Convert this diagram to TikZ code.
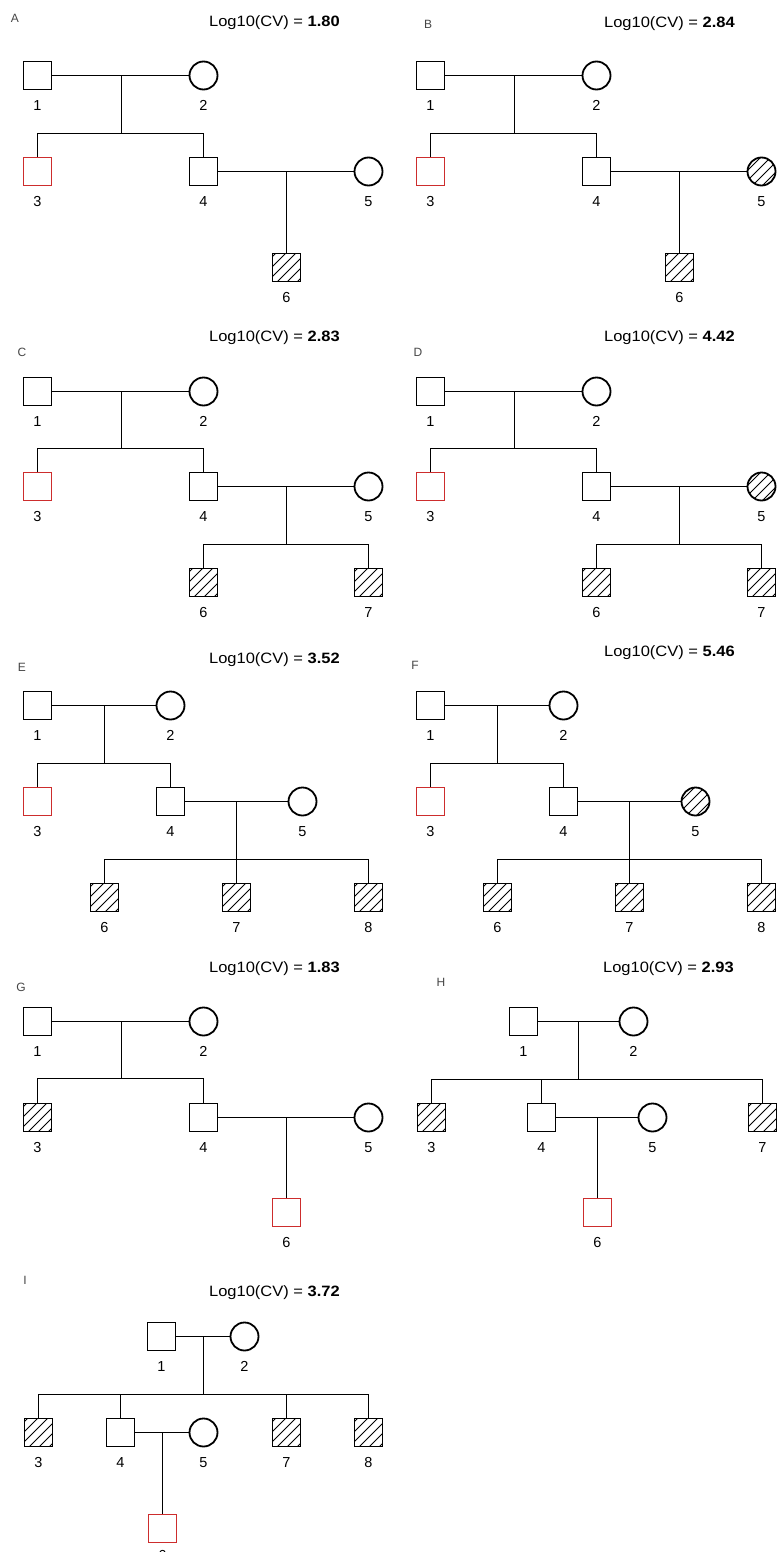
\documentclass[tikz,border=0pt]{standalone}
\usepackage{fontspec}
\setmainfont{Liberation Sans}
\usepackage{graphicx}
\definecolor{pedred}{RGB}{205,45,45}
\definecolor{lettergray}{RGB}{70,70,70}
\tikzset{
  person/.style={draw=black, line width=1.8pt, fill=white, inner sep=0pt,
    minimum size=28pt},
  male/.style={person, rectangle},
  female/.style={person, circle},
  proband/.style={draw=pedred},
  affected/.style={path picture={
    \foreach \k in {-25,-15,...,25}
      \draw[line width=1pt, shift={(path picture bounding box.center)}]
        (\k pt-20pt,-20pt) -- (\k pt+20pt,20pt);}},
  plain/.style={},
  tie/.style={draw=black, line width=1.8pt},
  every label/.style={font=\fontsize{14.5}{14.5}\selectfont, inner sep=0pt,
    yshift=-10pt},
  title/.style={font=\fontsize{15}{15}\selectfont, inner sep=0pt, anchor=east},
  letter/.style={font=\fontsize{12}{12}\selectfont, text=lettergray, inner sep=0pt}
}

% Three generations, one child of couple 4-5
\newcommand\pedsingle[3]{%
\begin{scope}[xshift=#2]
  \node[male, label=below:1] (#1p1) at (37.5,75.5) {};
  \node[female, label=below:2] (#1p2) at (203.5,75.5) {};
  \node[male, proband, label=below:3] (#1p3) at (37.5,171.5) {};
  \node[male, label=below:4] (#1p4) at (203.5,171.5) {};
  \node[female, #3, label=below:5] (#1p5) at (368.5,171.5) {};
  \node[male, affected, label=below:6] (#1p6) at (286.5,267.5) {};
  \coordinate (#1m1) at (121.5,75.5);
  \coordinate (#1s1) at (121.5,133.5);
  \coordinate (#1m2) at (286.5,171.5);
  \draw[tie] (#1p1) -- (#1p2);
  \draw[tie] (#1m1) -- (#1s1);
  \draw[tie] (#1p3.north) |- (#1s1) -| (#1p4.north);
  \draw[tie] (#1p4) -- (#1p5);
  \draw[tie] (#1m2) -- (#1p6);
\end{scope}}

% Three generations, two children of couple 4-5
\newcommand\pedpair[3]{%
\begin{scope}[xshift=#2]
  \node[male, label=below:1] (#1p1) at (37.5,391.5) {};
  \node[female, label=below:2] (#1p2) at (203.5,391.5) {};
  \node[male, proband, label=below:3] (#1p3) at (37.5,486.5) {};
  \node[male, label=below:4] (#1p4) at (203.5,486.5) {};
  \node[female, #3, label=below:5] (#1p5) at (368.5,486.5) {};
  \node[male, affected, label=below:6] (#1p6) at (203.5,582.5) {};
  \node[male, affected, label=below:7] (#1p7) at (368.5,582.5) {};
  \coordinate (#1m1) at (121.5,391.5);
  \coordinate (#1s1) at (121.5,448.5);
  \coordinate (#1m2) at (286.5,486.5);
  \coordinate (#1s2) at (286.5,544.5);
  \draw[tie] (#1p1) -- (#1p2);
  \draw[tie] (#1m1) -- (#1s1);
  \draw[tie] (#1p3.north) |- (#1s1) -| (#1p4.north);
  \draw[tie] (#1p4) -- (#1p5);
  \draw[tie] (#1m2) -- (#1s2);
  \draw[tie] (#1p6.north) |- (#1s2) -| (#1p7.north);
\end{scope}}

% Three generations, three children of couple 4-5
\newcommand\pedtriple[3]{%
\begin{scope}[xshift=#2]
  \node[male, label=below:1] (#1p1) at (37.5,705.5) {};
  \node[female, label=below:2] (#1p2) at (170.5,705.5) {};
  \node[male, proband, label=below:3] (#1p3) at (37.5,801.5) {};
  \node[male, label=below:4] (#1p4) at (170.5,801.5) {};
  \node[female, #3, label=below:5] (#1p5) at (302.5,801.5) {};
  \node[male, affected, label=below:6] (#1p6) at (104.5,897.5) {};
  \node[male, affected, label=below:7] (#1p7) at (236.5,897.5) {};
  \node[male, affected, label=below:8] (#1p8) at (368.5,897.5) {};
  \coordinate (#1m1) at (104.5,705.5);
  \coordinate (#1s1) at (104.5,763.5);
  \coordinate (#1m2) at (236.5,801.5);
  \coordinate (#1s2) at (236.5,859.5);
  \draw[tie] (#1p1) -- (#1p2);
  \draw[tie] (#1m1) -- (#1s1);
  \draw[tie] (#1p3.north) |- (#1s1) -| (#1p4.north);
  \draw[tie] (#1p4) -- (#1p5);
  \draw[tie] (#1m2) -- (#1p7);
  \draw[tie] (#1p6.north) |- (#1s2) -| (#1p8.north);
\end{scope}}

\begin{document}
\begin{tikzpicture}[x=1pt, y=-1pt]
  \useasboundingbox[fill=white] (0,0) rectangle (779,1552);

  % ---- A / B ----
  \node[letter] (lA) at (15,18) {A};
  \node[title] (tA) at (340,23) {\scalebox{1.1}[1]{Log10(CV) = \textbf{1.80}}};
  \pedsingle{A}{0pt}{plain}
  \node[letter] (lB) at (428,24) {B};
  \node[title] (tB) at (735,24) {\scalebox{1.1}[1]{Log10(CV) = \textbf{2.84}}};
  \pedsingle{B}{393pt}{affected}

  % ---- C / D ----
  \node[letter] (lC) at (22,352) {C};
  \node[title] (tC) at (340,338) {\scalebox{1.1}[1]{Log10(CV) = \textbf{2.83}}};
  \pedpair{C}{0pt}{plain}
  \node[letter] (lD) at (418,352) {D};
  \node[title] (tD) at (735,338) {\scalebox{1.1}[1]{Log10(CV) = \textbf{4.42}}};
  \pedpair{D}{393pt}{affected}

  % ---- E / F ----
  \node[letter] (lE) at (22,667) {E};
  \node[title] (tE) at (340,660) {\scalebox{1.1}[1]{Log10(CV) = \textbf{3.52}}};
  \pedtriple{E}{0pt}{plain}
  \node[letter] (lF) at (415,665) {F};
  \node[title] (tF) at (735,653) {\scalebox{1.1}[1]{Log10(CV) = \textbf{5.46}}};
  \pedtriple{F}{393pt}{affected}

  % ---- G ----
  \node[letter] (lG) at (21,987) {G};
  \node[title] (tG) at (340,969) {\scalebox{1.1}[1]{Log10(CV) = \textbf{1.83}}};
  \node[male, label=below:1] (Gp1) at (37.5,1021.5) {};
  \node[female, label=below:2] (Gp2) at (203.5,1021.5) {};
  \node[male, affected, label=below:3] (Gp3) at (37.5,1117.5) {};
  \node[male, label=below:4] (Gp4) at (203.5,1117.5) {};
  \node[female, label=below:5] (Gp5) at (368.5,1117.5) {};
  \node[male, proband, label=below:6] (Gp6) at (286.5,1212.5) {};
  \coordinate (Gm1) at (121.5,1021.5);
  \coordinate (Gs1) at (121.5,1078.5);
  \coordinate (Gm2) at (286.5,1117.5);
  \draw[tie] (Gp1) -- (Gp2);
  \draw[tie] (Gm1) -- (Gs1);
  \draw[tie] (Gp3.north) |- (Gs1) -| (Gp4.north);
  \draw[tie] (Gp4) -- (Gp5);
  \draw[tie] (Gm2) -- (Gp6);

  % ---- H ----
  \node[letter] (lH) at (441,982) {H};
  \node[title] (tH) at (734,969) {\scalebox{1.1}[1]{Log10(CV) = \textbf{2.93}}};
  \node[male, label=below:1] (Hp1) at (523.5,1021.5) {};
  \node[female, label=below:2] (Hp2) at (633.5,1021.5) {};
  \node[male, affected, label=below:3] (Hp3) at (431.5,1117.5) {};
  \node[male, label=below:4] (Hp4) at (541.5,1117.5) {};
  \node[female, label=below:5] (Hp5) at (652.5,1117.5) {};
  \node[male, proband, label=below:6] (Hp6) at (597.5,1212.5) {};
  \node[male, affected, label=below:7] (Hp7) at (762.5,1117.5) {};
  \coordinate (Hm1) at (578.5,1021.5);
  \coordinate (Hs1) at (578.5,1079.5);
  \coordinate (Hm2) at (597.5,1117.5);
  \draw[tie] (Hp1) -- (Hp2);
  \draw[tie] (Hm1) -- (Hs1);
  \draw[tie] (Hp3.north) |- (Hs1) -| (Hp7.north);
  \draw[tie] (Hp4) -- (Hp4 |- Hs1);
  \draw[tie] (Hp4) -- (Hp5);
  \draw[tie] (Hm2) -- (Hp6);

  % ---- I ----
  \node[letter] (lI) at (25,1280) {I};
  \node[title] (tI) at (340,1293) {\scalebox{1.1}[1]{Log10(CV) = \textbf{3.72}}};
  \node[male, label=below:1] (Ip1) at (161.5,1336.5) {};
  \node[female, label=below:2] (Ip2) at (244.5,1336.5) {};
  \node[male, affected, label=below:3] (Ip3) at (38.5,1432.5) {};
  \node[male, label=below:4] (Ip4) at (120.5,1432.5) {};
  \node[female, label=below:5] (Ip5) at (203.5,1432.5) {};
  \node[male, affected, label=below:7] (Ip7) at (286.5,1432.5) {};
  \node[male, affected, label=below:8] (Ip8) at (368.5,1432.5) {};
  \node[male, proband, label={[yshift=3pt]below:6}] (Ip6) at (162.5,1528.5) {};
  \coordinate (Im1) at (203.5,1336.5);
  \coordinate (Is1) at (203.5,1394.5);
  \coordinate (Im2) at (162.5,1432.5);
  \draw[tie] (Ip1) -- (Ip2);
  \draw[tie] (Im1) -- (Is1);
  \draw[tie] (Ip3.north) |- (Is1) -| (Ip8.north);
  \draw[tie] (Ip4) -- (Ip4 |- Is1);
  \draw[tie] (Ip7) -- (Ip7 |- Is1);
  \draw[tie] (Ip4) -- (Ip5);
  \draw[tie] (Im2) -- (Ip6);
\end{tikzpicture}
\end{document}
